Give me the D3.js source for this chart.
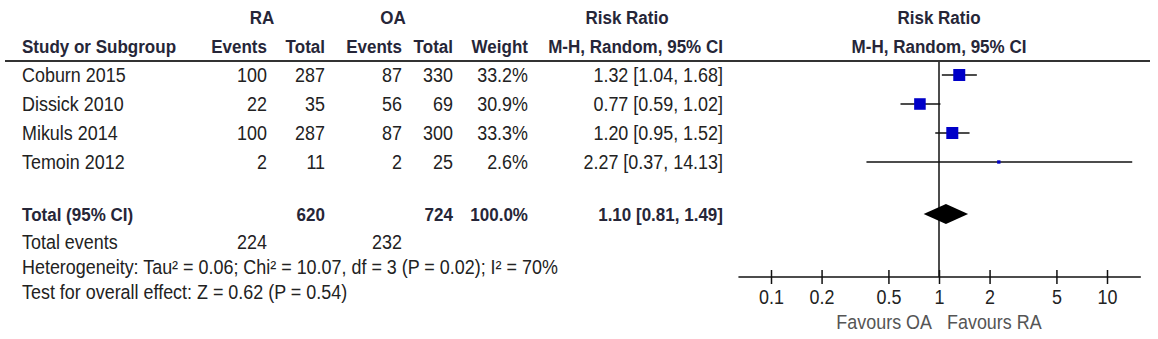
<!DOCTYPE html>
<html>
<head>
<meta charset="utf-8">
<script src="https://cdn.jsdelivr.net/npm/d3@7"></script>
<style>
  body { margin: 0; background: #fff; }
  svg { display: block; font-family: "Liberation Sans", Arial, sans-serif; }
</style>
</head>
<body>
<svg id="chart" width="1158" height="339"></svg>
<script>
// study rows
const studies = ["Coburn 2015", "Dissick 2010", "Mikuls 2014", "Temoin 2012"];
const raEvents = [100, 22, 100, 2];
const raTotal = [287, 35, 287, 11];
const oaEvents = [87, 56, 87, 2];
const oaTotal = [330, 69, 300, 25];
const weights = [33.2, 30.9, 33.3, 2.6];
const riskRatio = [1.32, 0.77, 1.2, 2.27];
const ciLow = [1.04, 0.59, 0.95, 0.37];
const ciHigh = [1.68, 1.02, 1.52, 14.13];

// pooled result
const pooledTotals = [620, 724];
const pooledEvents = [224, 232];
const pooledWeight = 100.0;
const pooledRR = [1.1, 0.81, 1.49];
const heterogeneity = "Heterogeneity: Tau² = 0.06; Chi² = 10.07, df = 3 (P = 0.02); I² = 70%";
const overallEffect = "Test for overall effect: Z = 0.62 (P = 0.54)";

// axis
const tickValues = [0.1, 0.2, 0.5, 1, 2, 5, 10];
const axisExtent = [0.064, 15.9];
const favours = ["Favours OA", "Favours RA"];

const svg = d3.select("#chart");
const textColor = "#222";
const headColor = "#262638";
// the original type is a little narrow, squeeze it
const sx = 0.92;

const x = d3.scaleLog().domain([0.1, 10]).range([771, 1107]);
const y = d3.scalePoint().domain(studies).range([75, 162]);
const totalY = 214;
const fmt2 = d3.format(".2f");

// column right edges
const cols = { raE: 267, raT: 325, oaE: 402, oaT: 453, w: 528, rr: 723 };

function put(g, txt, px, py, anchor = "start") {
  return g.append("text")
    .attr("transform", `translate(${px}, ${py}) scale(${sx}, 1)`)
    .attr("text-anchor", anchor)
    .text(txt);
}

// headers
const head = svg.append("g")
  .attr("font-weight", "bold")
  .attr("font-size", 18.5)
  .attr("fill", headColor);

[
  ["RA", 262, 24, "middle"],
  ["OA", 393, 24, "middle"],
  ["Risk Ratio", 627, 24, "middle"],
  ["Risk Ratio", 939, 24, "middle"],
  ["Study or Subgroup", 22, 53, "start"],
  ["Events", cols.raE, 53, "end"],
  ["Total", cols.raT, 53, "end"],
  ["Events", cols.oaE, 53, "end"],
  ["Total", cols.oaT, 53, "end"],
  ["Weight", cols.w, 53, "end"],
  ["M-H, Random, 95% CI", cols.rr, 53, "end"],
  ["M-H, Random, 95% CI", 939, 53, "middle"]
].forEach(([t, px, py, anchor]) => put(head, t, px, py, anchor));

svg.append("line")
  .attr("x1", 5).attr("x2", 1150)
  .attr("y1", 61).attr("y2", 61)
  .attr("stroke", "#333").attr("stroke-width", 2);

// table rows
const rows = studies.map((s, i) => ({
  name: s, raE: raEvents[i], raT: raTotal[i], oaE: oaEvents[i], oaT: oaTotal[i],
  w: weights[i], rr: riskRatio[i], lo: ciLow[i], hi: ciHigh[i]
}));

const rowG = svg.append("g")
  .attr("font-size", 19.5)
  .attr("fill", textColor)
  .selectAll("g")
  .data(rows)
  .join("g")
  .attr("transform", (d) => `translate(0, ${y(d.name) + 7})`);

rowG.append("text")
  .attr("transform", `translate(22, 0) scale(${sx}, 1)`)
  .text((d) => d.name);
[
  ["raE", (d) => d.raE],
  ["raT", (d) => d.raT],
  ["oaE", (d) => d.oaE],
  ["oaT", (d) => d.oaT],
  ["w", (d) => d.w.toFixed(1) + "%"],
  ["rr", (d) => `${fmt2(d.rr)} [${fmt2(d.lo)}, ${fmt2(d.hi)}]`]
].forEach(([c, f]) => {
  rowG.append("text")
    .attr("transform", `translate(${cols[c]}, 0) scale(${sx}, 1)`)
    .attr("text-anchor", "end")
    .text(f);
});

// total rows
const foot = svg.append("g").attr("font-size", 19.5).attr("fill", textColor);
const totalRow = foot.append("g")
  .attr("font-weight", "bold")
  .attr("font-size", 18.5)
  .attr("fill", headColor);
const ty = totalY + 7;
put(totalRow, "Total (95% CI)", 22, ty);
put(totalRow, pooledTotals[0], cols.raT, ty, "end");
put(totalRow, pooledTotals[1], cols.oaT, ty, "end");
put(totalRow, pooledWeight.toFixed(1) + "%", cols.w, ty, "end");
put(totalRow, `${fmt2(pooledRR[0])} [${fmt2(pooledRR[1])}, ${fmt2(pooledRR[2])}]`, cols.rr, ty, "end");

put(foot, "Total events", 22, 249);
put(foot, pooledEvents[0], cols.raE, 249, "end");
put(foot, pooledEvents[1], cols.oaE, 249, "end");
put(foot, heterogeneity, 22, 274);
put(foot, overallEffect, 22, 299);

// forest plot
const axisY = 277;
const plot = svg.append("g");

// line of no effect
plot.append("line")
  .attr("x1", x(1)).attr("x2", x(1))
  .attr("y1", 62).attr("y2", axisY)
  .attr("stroke", "#111").attr("stroke-width", 1.5);

// confidence intervals
plot.selectAll(".ci")
  .data(rows)
  .join("line")
  .attr("class", "ci")
  .attr("x1", (d) => x(d.lo)).attr("x2", (d) => x(d.hi))
  .attr("y1", (d) => y(d.name)).attr("y2", (d) => y(d.name))
  .attr("stroke", "#111").attr("stroke-width", 1.5);

// study weights as squares
const size = d3.scaleSqrt().domain([0, 33.3]).range([0, 12]);
plot.selectAll(".box")
  .data(rows)
  .join("rect")
  .attr("class", "box")
  .attr("x", (d) => x(d.rr) - size(d.w) / 2)
  .attr("y", (d) => y(d.name) - size(d.w) / 2)
  .attr("width", (d) => size(d.w))
  .attr("height", (d) => size(d.w))
  .attr("fill", "#0000c8");

// pooled diamond
plot.append("path")
  .attr("d", d3.line()([
    [x(pooledRR[1]), totalY],
    [x(pooledRR[0]), totalY - 10],
    [x(pooledRR[2]), totalY],
    [x(pooledRR[0]), totalY + 10]
  ]) + "Z")
  .attr("fill", "#000");

// axis
plot.append("line")
  .attr("x1", x(axisExtent[0])).attr("x2", x(axisExtent[1]))
  .attr("y1", axisY).attr("y2", axisY)
  .attr("stroke", "#111").attr("stroke-width", 1.5);

const axis = plot.append("g")
  .attr("transform", `translate(0, ${axisY})`)
  .call(d3.axisBottom(x).tickValues(tickValues).tickFormat(d3.format("")).tickSize(7).tickPadding(6));
axis.select(".domain").remove();
axis.selectAll(".tick line").attr("y1", -7).attr("stroke", "#111").attr("stroke-width", 1.5);
axis.selectAll(".tick text")
  .attr("font-size", 19.5)
  .attr("font-family", "Liberation Sans, Arial, sans-serif")
  .attr("transform", `scale(${sx}, 1)`)
  .attr("fill", textColor);

put(plot, favours[0], x(1) - 7, 329, "end")
  .attr("font-size", 19.5).attr("fill", "#555");
put(plot, favours[1], x(1) + 8, 329)
  .attr("font-size", 19.5).attr("fill", "#555");
</script>
</body>
</html>
